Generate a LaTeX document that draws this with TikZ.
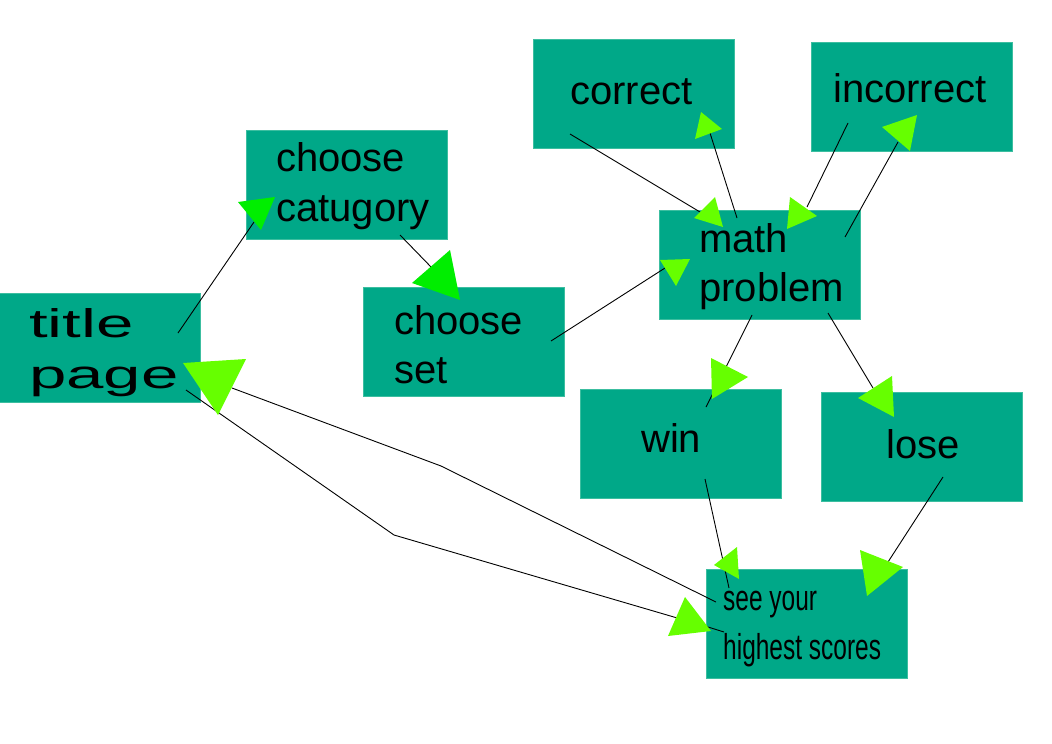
\documentclass[tikz,border=0pt]{standalone}
\usepackage{fontspec}
\setmainfont{Liberation Sans}
\usepackage{graphicx}
\definecolor{boxteal}{RGB}{0,168,136}
\definecolor{boxedge}{RGB}{60,190,160}
\definecolor{headgreen}{RGB}{102,255,0}
\definecolor{headpure}{RGB}{0,238,0}
\begin{document}
\begin{tikzpicture}[x=1pt,y=-1pt,
  box/.style={fill=boxteal, draw=boxedge, line width=0.7pt, minimum width=201pt, minimum height=109pt, inner sep=0pt},
  txt/.style={anchor=base west, inner sep=0pt, font=\fontsize{40}{48}\selectfont},
  smalltxt/.style={anchor=base west, inner sep=0pt, font=\fontsize{36}{44}\selectfont},
  conn/.style={line width=0.9pt, black},
  headg/.style={fill=headgreen},
  headp/.style={fill=headpure}]
\useasboundingbox (0,0) rectangle (1052,744);
\fill[white] (0,0) rectangle (1052,744);

% boxes
\node[box] (title) at (100,347.5) {};
\node[box] (cat) at (346.5,185) {};
\node[box] (set) at (464,342) {};
\node[box] (correct) at (634,93.5) {};
\node[box] (incorrect) at (912,96.5) {};
\node[box] (math) at (759.5,265) {};
\node[box] (win) at (681,443.5) {};
\node[box] (lose) at (922,446.5) {};
\node[box] (see) at (806.5,623.5) {};

% texts
\node[txt] (t1) at (29,337) {\scalebox{1.68}[1]{title}};
\node[txt] (t2) at (29,388) {\scalebox{1.68}[1]{page}};
\node[txt] (c1) at (276,171) {choose};
\node[txt] (c2) at (276,221) {catugory};
\node[txt] (s1) at (394,334) {choose};
\node[txt] (s2) at (394,383) {set};
\node[txt] (co) at (570,104) {correct};
\node[txt] (ic) at (833,102) {incorrect};
\node[txt] (m1) at (699,252) {math};
\node[txt] (m2) at (699,301) {problem};
\node[txt] (w1) at (641,452) {win};
\node[txt] (l1) at (886,458) {lose};
\node[smalltxt] (h1) at (723,610) {\scalebox{0.68}[1]{see your}};
\node[smalltxt] (h2) at (723,659) {\scalebox{0.68}[1]{highest scores}};

% connector end points
\coordinate (tpA) at (178,333);   \coordinate (catA) at (254,222);
\coordinate (catB) at (400,235);  \coordinate (setA) at (432,268);
\coordinate (setB) at (551,341);  \coordinate (mA) at (665,268);
\coordinate (coA) at (570,134);   \coordinate (mB) at (700,212);
\coordinate (mC) at (737,218);    \coordinate (coB) at (710,133);
\coordinate (icA) at (848,123);   \coordinate (mD) at (807,207);
\coordinate (mE) at (845,237);    \coordinate (icB) at (898,142);
\coordinate (mF) at (752,315);    \coordinate (wA) at (706,407);
\coordinate (mG) at (828,313);    \coordinate (lA) at (873,388);
\coordinate (wB) at (705,479);    \coordinate (seA) at (729,588);
\coordinate (lB) at (943,477);    \coordinate (seB) at (888,562);
\coordinate (seC) at (716,602);   \coordinate (bend1) at (441,466);  \coordinate (tpB) at (232,388);
\coordinate (tpC) at (186,390);   \coordinate (bend2) at (394,535);  \coordinate (bend3) at (708,627); \coordinate (seD) at (724,632);

% connectors
\draw[conn] (tpA) -- (catA);
\draw[conn] (catB) -- (setA);
\draw[conn] (setB) -- (mA);
\draw[conn] (coA) -- (mB);
\draw[conn] (mC) -- (coB);
\draw[conn] (icA) -- (mD);
\draw[conn] (mE) -- (icB);
\draw[conn] (mF) -- (wA);
\draw[conn] (mG) -- (lA);
\draw[conn] (wB) -- (seA);
\draw[conn] (lB) -- (seB);
\draw[conn] (seC) -- (bend1) -- (tpB);
\draw[conn] (tpC) -- (bend2) -- (bend3) -- (seD);

% arrowheads
\fill[headp] (238,202) -- (275,197) -- (261,230) -- cycle;
\fill[headp] (412,283) -- (450,250) -- (460,300) -- cycle;
\fill[headg] (660,260) -- (690,259) -- (676,286) -- cycle;
\fill[headg] (694,218) -- (715,197) -- (723,227) -- cycle;
\fill[headg] (695,139) -- (701,112) -- (722,129) -- cycle;
\fill[headg] (787,229) -- (790,197) -- (817,216) -- cycle;
\fill[headg] (882,127) -- (917,115) -- (910,151) -- cycle;
\fill[headg] (711,358) -- (748,377) -- (712,399) -- cycle;
\fill[headg] (858,398) -- (892,376) -- (894,417) -- cycle;
\fill[headg] (714,565) -- (737,547) -- (739,579) -- cycle;
\fill[headg] (860,550) -- (903,567) -- (867,596) -- cycle;
\fill[headg] (183,363) -- (246,359) -- (218,415) -- cycle;
\fill[headg] (668,636) -- (685,597) -- (711,631) -- cycle;
\end{tikzpicture}
\end{document}
